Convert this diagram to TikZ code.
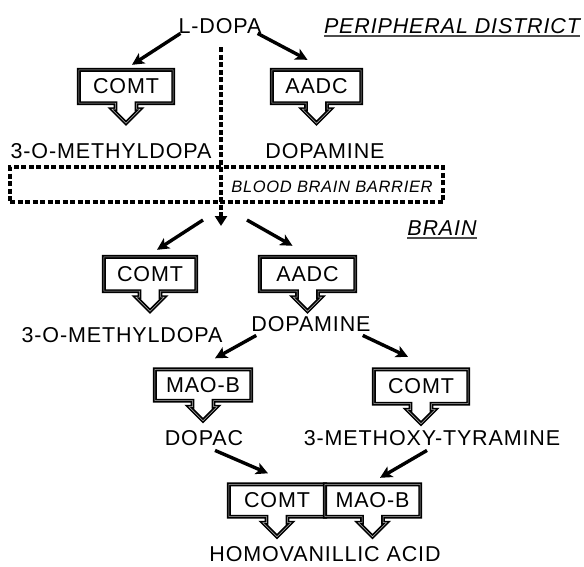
\documentclass[tikz,border=0pt]{standalone}
\usepackage{fontspec}
\setmainfont{Liberation Sans}[LetterSpace=4]
\usetikzlibrary{arrows.meta}
\tikzset{
 lbl/.style={inner sep=0pt, anchor=base, font=\fontsize{21.5}{24}\selectfont},
 ttl/.style={inner sep=0pt, anchor=base, font=\fontsize{21.5}{24}\selectfont\itshape},
 enz/.style={inner sep=0pt, font=\fontsize{21.5}{24}\selectfont},
 calloutline/.style={draw=black, line width=1.7pt, double=gray!55, double distance=0.5pt, line join=miter},
 arr/.style={line width=3.4pt, -{Stealth[length=12pt,width=12pt,inset=3pt]}},
 dsh/.style={line width=3.2pt, dash pattern=on 5pt off 2.5pt},
 uline/.style={line width=1.3pt, black!70},
}
\newcommand\callout[1]{%
 \draw[calloutline] (#1.north west) -- (#1.north east) -- (#1.south east)
  -- ([xshift=10.5pt]#1.south) -- ([xshift=10.5pt,yshift=-6pt]#1.south)
  -- ([xshift=14pt,yshift=-6pt]#1.south) -- ([yshift=-20pt]#1.south)
  -- ([xshift=-14pt,yshift=-6pt]#1.south) -- ([xshift=-10.5pt,yshift=-6pt]#1.south)
  -- ([xshift=-10.5pt]#1.south) -- (#1.south west) -- cycle;}
\begin{document}
\begin{tikzpicture}[x=1pt,y=-1pt]
\path[fill=white, use as bounding box] (0,0) rectangle (584,566);

% peripheral
\node[lbl] (ldopa) at (220,33) {L-DOPA};
\node[ttl] (periph) at (452,33) {PERIPHERAL DISTRICT};
\draw[uline] ([yshift=-3pt]periph.base west) -- ([yshift=-3pt]periph.base east);

\node[enz, minimum width=94pt, minimum height=33pt] (comt1) at (126,86.5) {COMT};
\node[enz, minimum width=89pt, minimum height=33pt] (aadc1) at (316.5,86.5) {AADC};
\callout{comt1}
\callout{aadc1}

\node[lbl] (methyl1) at (111,158) {3-O-METHYLDOPA};
\node[lbl] (dop1) at (325,158) {DOPAMINE};

% barrier
\node[draw, dsh, inner sep=0pt, minimum width=433pt, minimum height=35pt] (barrier) at (226.5,184.5) {};
\node[inner sep=0pt, anchor=base, font=\fontsize{16.5}{19}\selectfont\itshape] (bbbtext) at (332,192) {BLOOD BRAIN BARRIER};
\coordinate (bbbin) at (221,226);

\draw[arr] ([xshift=2pt]ldopa.south west) -- ([xshift=6pt,yshift=5pt]comt1.north);
\draw[arr] ([xshift=-4pt]ldopa.south east) -- ([xshift=-9pt,yshift=10pt]aadc1.north);
\draw[dsh, -{Triangle[length=10pt,width=12pt]}] ([xshift=1pt,yshift=-14pt]ldopa.south) -- (bbbin);

% brain
\node[ttl] (brain) at (442,235) {BRAIN};
\draw[uline] ([yshift=-3pt]brain.base west) -- ([yshift=-3pt]brain.base east);

\node[enz, minimum width=92pt, minimum height=34pt] (comt2) at (150,274) {COMT};
\node[enz, minimum width=95pt, minimum height=34pt] (aadc2) at (307.5,274) {AADC};
\callout{comt2}
\callout{aadc2}
\draw[arr] ([xshift=-18pt,yshift=6pt]bbbin) -- ([xshift=7pt,yshift=7pt]comt2.north);
\draw[arr] ([xshift=26pt,yshift=6pt]bbbin) -- ([xshift=-15pt,yshift=11pt]aadc2.north);

\node[lbl] (methyl2) at (122,342) {3-O-METHYLDOPA};
\node[lbl] (dop2) at (311,331) {DOPAMINE};

\node[enz, minimum width=96pt, minimum height=31pt] (mao1) at (203,385) {MAO-B};
\node[enz, minimum width=94pt, minimum height=34pt] (comt3) at (421,386.5) {COMT};
\callout{mao1}
\callout{comt3}
\draw[arr] ([xshift=5pt,yshift=-4pt]dop2.south west) -- ([xshift=12pt,yshift=11pt]mao1.north);
\draw[arr] ([xshift=-8pt,yshift=-4pt]dop2.south east) -- ([xshift=-13pt,yshift=12.5pt]comt3.north);

\node[lbl] (dopac) at (204,445) {DOPAC};
\node[lbl] (mt) at (432,445) {3-METHOXY-TYRAMINE};

\node[enz, minimum width=96pt, minimum height=32pt] (comt4) at (277,500.5) {COMT};
\node[enz, minimum width=95pt, minimum height=32pt] (maob2) at (372.5,500.5) {MAO-B};
\callout{comt4}
\callout{maob2}
\draw[arr] ([xshift=11pt,yshift=-5pt]dopac.south) -- ([xshift=-9pt,yshift=11pt]comt4.north);
\draw[arr] ([xshift=-5pt,yshift=-5pt]mt.south) -- ([xshift=7.5pt,yshift=6.5pt]maob2.north);

\node[lbl] (hva) at (325,561.5) {HOMOVANILLIC ACID};
\end{tikzpicture}
\end{document}
